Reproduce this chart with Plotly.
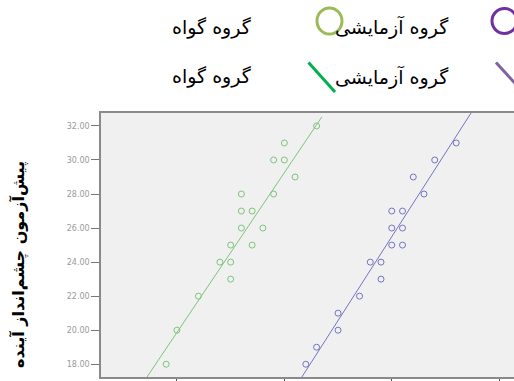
import plotly.graph_objects as go

# ---- data ----
green_x = [29, 30, 32, 35, 34, 35, 35, 37, 36, 38, 36, 37, 36, 39, 41, 39, 40, 40, 43]
green_y = [18, 20, 22, 23, 24, 24, 25, 25, 26, 26, 27, 27, 28, 28, 29, 30, 30, 31, 32]
blue_x = [42, 43, 45, 45, 47, 49, 48, 49, 50, 51, 50, 51, 50, 51, 53, 52, 54, 56]
blue_y = [18, 19, 20, 21, 22, 23, 24, 24, 25, 25, 26, 26, 27, 27, 28, 29, 30, 31]
green_fit_x = [27.21, 43.49]
green_fit_y = [17.25, 32.53]
blue_fit_x = [41.63, 57.44]
blue_fit_y = [17.25, 32.82]
x_ticks = [30, 40, 50, 60]
y_ticks = [18, 20, 22, 24, 26, 28, 30, 32]
y_ticktext = ["%.2f" % v for v in y_ticks]
legend_labels = ["گروه آزمایشی", "گروه گواه"]
y_title = "پیش‌آزمون چشم‌انداز آینده"

GREEN = "#7cc47c"
BLUE = "#7474c4"

W, H = 514, 381
L, R, T, B = 101, 0, 113, 4
PW, PH = W - L - R, H - T - B


def px(x):
    return (x - L) / PW


def py(y):
    return (H - B - y) / PH


fig = go.Figure()
fig.add_trace(go.Scatter(x=green_fit_x, y=green_fit_y, mode="lines",
                         line=dict(color=GREEN, width=1), showlegend=False))
fig.add_trace(go.Scatter(x=blue_fit_x, y=blue_fit_y, mode="lines",
                         line=dict(color=BLUE, width=1), showlegend=False))
fig.add_trace(go.Scatter(x=green_x, y=green_y, mode="markers",
                         marker=dict(symbol="circle-open", size=6, color=GREEN,
                                     line=dict(width=1)), showlegend=False))
fig.add_trace(go.Scatter(x=blue_x, y=blue_y, mode="markers",
                         marker=dict(symbol="circle-open", size=6, color=BLUE,
                                     line=dict(width=1)), showlegend=False))

fig.update_layout(
    width=W, height=H,
    margin=dict(l=L, r=R, t=T, b=B, pad=0),
    paper_bgcolor="white", plot_bgcolor="#f0f0f0",
    showlegend=False,
    font=dict(family="DejaVu Sans"),
    xaxis=dict(range=[22.93, 61.38], tickvals=x_ticks, showticklabels=False,
               ticks="outside", ticklen=4, tickcolor="#555", tickwidth=1,
               showline=True, linecolor="#8a8a8a", linewidth=1.5, mirror=True,
               showgrid=False, zeroline=False),
    yaxis=dict(range=[17.25, 32.76], tickvals=y_ticks, ticktext=y_ticktext,
               ticks="outside", ticklen=8, tickcolor="#777", tickwidth=1,
               tickfont=dict(size=8, color="#9a9a9a", family="DejaVu Sans"),
               showline=True, linecolor="#8a8a8a", linewidth=1.5, mirror=False,
               showgrid=False, zeroline=False),
)

# legend symbols (decorative)
fig.add_shape(type="circle", xref="paper", yref="paper",
              x0=px(492), x1=px(517), y0=py(33.5), y1=py(8.5),
              line=dict(color="#7030a0", width=3))
fig.add_shape(type="circle", xref="paper", yref="paper",
              x0=px(317), x1=px(342), y0=py(34), y1=py(8),
              line=dict(color="#9bbb59", width=3))
fig.add_shape(type="line", xref="paper", yref="paper",
              x0=px(308.5), y0=py(62.5), x1=px(335), y1=py(92),
              line=dict(color="#00b050", width=3))
fig.add_shape(type="line", xref="paper", yref="paper",
              x0=px(496), y0=py(62.5), x1=px(523), y1=py(92),
              line=dict(color="#8064a2", width=3))

ann_font = dict(family="DejaVu Sans", size=19, color="black")
for yy in (27, 77):
    fig.add_annotation(text=legend_labels[0], xref="paper", yref="paper",
                       x=px(451), y=py(yy), xanchor="right", yanchor="middle",
                       showarrow=False, font=ann_font)
    fig.add_annotation(text=legend_labels[1], xref="paper", yref="paper",
                       x=px(254), y=py(yy), xanchor="right", yanchor="middle",
                       showarrow=False, font=ann_font)

fig.add_annotation(text="<b>" + y_title + "</b>", xref="paper", yref="paper",
                   x=px(18), y=py(265), xanchor="center", yanchor="middle",
                   textangle=-90, showarrow=False,
                   font=dict(family="DejaVu Sans", size=16, color="black"))

fig.write_html("out.html")
